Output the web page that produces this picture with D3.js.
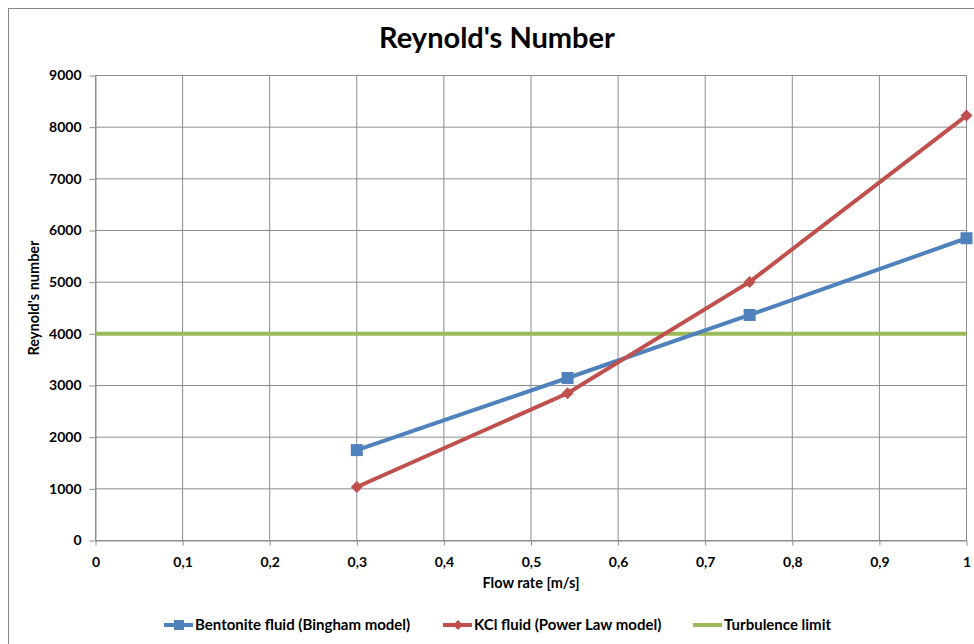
<!DOCTYPE html>
<meta charset="utf-8">
<script src="https://d3js.org/d3.v7.min.js"></script>
<style>
  body { margin: 0; background: #fff; }
  text { font-family: Lato, "Open Sans", sans-serif; fill: #000; }
</style>
<div id="chart"></div>
<script>
  // data
  var flowRate = [0.3, 0.542, 0.751, 1.0];
  var bentonite = [1750, 3145, 4365, 5850];
  var kcl = [1035, 2850, 5005, 8225];
  var turbulence = [4000, 4000];
  var turbX = [0, 1];
  var xTicks = [0, 0.1, 0.2, 0.3, 0.4, 0.5, 0.6, 0.7, 0.8, 0.9, 1];
  var yTicks = [0, 1000, 2000, 3000, 4000, 5000, 6000, 7000, 8000, 9000];
  var seriesNames = ["Bentonite fluid (Bingham model)", "KCl fluid (Power Law model)", "Turbulence limit"];
  var colors = ["#4f81bd", "#c0504d", "#9bbb59"];

  var W = 974, H = 644;
  var svg = d3.select("#chart").append("svg")
    .attr("width", W).attr("height", H);

  // outer chart frame
  svg.append("rect")
    .attr("x", 8.5).attr("y", 8.5)
    .attr("width", W + 10).attr("height", H + 10)
    .attr("fill", "#fff").attr("stroke", "#868686");

  var x = d3.scaleLinear().domain([0, 1]).range([95.5, 966.5]);
  var y = d3.scaleLinear().domain([0, 9000]).range([540.5, 75.5]);

  // grid
  svg.append("g").selectAll("line").data(yTicks).enter().append("line")
    .attr("x1", x(0)).attr("x2", x(1))
    .attr("y1", function(d) { return y(d); }).attr("y2", function(d) { return y(d); })
    .attr("stroke", "#8c8c8c");
  svg.append("g").selectAll("line").data(xTicks).enter().append("line")
    .attr("y1", y(0)).attr("y2", y(9000))
    .attr("x1", function(d) { return x(d); }).attr("x2", function(d) { return x(d); })
    .attr("stroke", "#8c8c8c");

  // axes
  var fmt = function(d) { return String(d).replace(".", ","); };
  var yAxis = svg.append("g").attr("transform", "translate(" + x(0) + ",0)")
    .call(d3.axisLeft(y).tickValues(yTicks).tickFormat(d3.format("d")).tickSize(6).tickPadding(8).tickSizeOuter(0));
  var xAxis = svg.append("g").attr("transform", "translate(0," + y(0) + ")")
    .call(d3.axisBottom(x).tickValues(xTicks).tickFormat(fmt).tickSize(5).tickPadding(12).tickSizeOuter(0));
  [xAxis, yAxis].forEach(function(a) {
    a.select(".domain").attr("stroke", "#8c8c8c");
    a.selectAll(".tick line").attr("stroke", "#8c8c8c");
    a.selectAll("text").attr("font-size", 14).attr("font-weight", "bold")
      .attr("font-family", "Lato, sans-serif").attr("fill", "#000");
  });

  // lines
  var line = d3.line().x(function(d) { return x(d[0]); }).y(function(d) { return y(d[1]); });
  var turbData = d3.zip(turbX, turbulence);
  var bentData = d3.zip(flowRate, bentonite);
  var kclData = d3.zip(flowRate, kcl);

  svg.append("path").datum(turbData).attr("d", line)
    .attr("fill", "none").attr("stroke", colors[2]).attr("stroke-width", 4);
  svg.append("path").datum(bentData).attr("d", line)
    .attr("fill", "none").attr("stroke", colors[0]).attr("stroke-width", 4);
  svg.append("path").datum(kclData).attr("d", line)
    .attr("fill", "none").attr("stroke", colors[1]).attr("stroke-width", 4);

  // markers
  svg.append("g").selectAll("rect").data(bentData).enter().append("rect")
    .attr("x", function(d) { return x(d[0]) - 6; })
    .attr("y", function(d) { return y(d[1]) - 6; })
    .attr("width", 12).attr("height", 12)
    .attr("fill", colors[0]);
  svg.append("g").selectAll("path").data(kclData).enter().append("path")
    .attr("d", "M0,-6L6,0L0,6L-6,0Z")
    .attr("transform", function(d) { return "translate(" + x(d[0]) + "," + y(d[1]) + ")"; })
    .attr("fill", colors[1]);

  // titles
  svg.append("text").attr("x", 497).attr("y", 48)
    .attr("text-anchor", "middle").attr("font-size", 29).attr("font-weight", "bold")
    .text("Reynold's Number");
  svg.append("text").attr("x", 531).attr("y", 588)
    .attr("text-anchor", "middle").attr("font-size", 14.5).attr("font-weight", "bold")
    .text("Flow rate [m/s]");
  svg.append("text").attr("transform", "translate(39,298) rotate(-90)")
    .attr("text-anchor", "middle").attr("font-size", 14.5).attr("font-weight", "bold")
    .text("Reynold's number");

  // legend
  var legX = [164, 443, 693];
  var leg = svg.append("g").selectAll("g").data(seriesNames).enter().append("g")
    .attr("transform", function(d, i) { return "translate(" + legX[i] + ",625)"; });
  leg.append("line").attr("x1", 0).attr("x2", 29).attr("y1", 0).attr("y2", 0)
    .attr("stroke", function(d, i) { return colors[i]; }).attr("stroke-width", 4);
  leg.filter(function(d, i) { return i === 0; }).append("rect")
    .attr("x", 10).attr("y", -5).attr("width", 10).attr("height", 10).attr("fill", colors[0]);
  leg.filter(function(d, i) { return i === 1; }).append("path")
    .attr("d", "M15,-5L20,0L15,5L10,0Z").attr("fill", colors[1]);
  leg.append("text").attr("x", 31).attr("y", 5)
    .attr("font-size", 15).attr("font-weight", "bold")
    .text(function(d) { return d; });
</script>
